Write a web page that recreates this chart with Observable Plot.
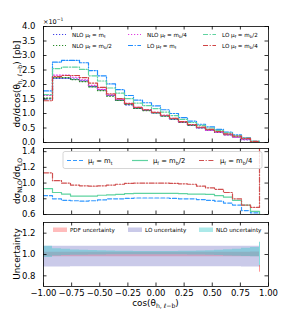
<!DOCTYPE html>
<html><head><meta charset="utf-8">
<script src="https://cdn.jsdelivr.net/npm/d3@7"></script>
<script src="https://cdn.jsdelivr.net/npm/@observablehq/plot@0.6"></script>
<style>
body{margin:0;background:#fff;}
#wrap{position:relative;width:282px;height:329px;font-family:"DejaVu Sans",sans-serif;overflow:hidden;}
#wrap svg{position:absolute;left:0;}
</style></head><body><div id="wrap"></div>
<script>
// ---------- data ----------
const binEdges = [-1.00,-0.92,-0.84,-0.76,-0.68,-0.60,-0.52,-0.44,-0.36,-0.28,-0.20,-0.12,-0.04,0.04,0.12,0.20,0.28,0.36,0.44,0.52,0.60,0.68,0.76,0.84,0.92];
const xTicks = [-1, -0.75, -0.5, -0.25, 0, 0.25, 0.5, 0.75, 1];
const topYTicks = [0, 0.5, 1.0, 1.5, 2.0, 2.5, 3.0, 3.5, 4.0];
const midYTicks = [0.6, 0.8, 1.0, 1.2, 1.4];
const botYTicks = [0.8, 1.0, 1.2];

// differential cross section (x10^-1 pb)
const nloMt  = [1.50,2.21,2.21,2.19,2.13,1.93,1.82,1.62,1.46,1.30,1.18,1.11,1.02,0.92,0.80,0.69,0.59,0.50,0.42,0.35,0.27,0.19,0.10,0.025];
const nloMb2 = [1.53,2.24,2.24,2.17,2.10,1.92,1.79,1.60,1.45,1.31,1.18,1.10,1.02,0.91,0.81,0.69,0.59,0.51,0.43,0.35,0.27,0.19,0.11,0.026];
const nloMb4 = [1.62,2.32,2.32,2.25,2.16,1.97,1.83,1.64,1.49,1.34,1.21,1.13,1.04,0.94,0.83,0.71,0.61,0.51,0.42,0.35,0.26,0.18,0.10,0.028];
const loMt   = [1.78,2.77,2.83,2.83,2.75,2.48,2.30,2.02,1.82,1.62,1.46,1.37,1.26,1.13,1.00,0.86,0.74,0.63,0.54,0.45,0.36,0.26,0.16,0.04];
const loMb2  = [1.65,2.55,2.60,2.60,2.52,2.30,2.12,1.88,1.70,1.51,1.36,1.27,1.17,1.05,0.93,0.80,0.69,0.59,0.50,0.42,0.33,0.24,0.15,0.04];
const loMb4  = [1.44,2.27,2.31,2.31,2.24,2.05,1.90,1.68,1.51,1.35,1.21,1.13,1.04,0.94,0.83,0.72,0.62,0.53,0.45,0.38,0.30,0.22,0.14,0.04];

// NLO / LO ratios
const ratioMt  = [0.84,0.80,0.78,0.775,0.77,0.775,0.785,0.80,0.80,0.805,0.81,0.81,0.81,0.81,0.805,0.80,0.80,0.79,0.78,0.77,0.745,0.72,0.65,0.62];
const ratioMb2 = [0.93,0.88,0.86,0.835,0.835,0.835,0.845,0.85,0.855,0.865,0.87,0.87,0.87,0.87,0.87,0.865,0.86,0.86,0.855,0.84,0.82,0.78,0.72,0.64];
const ratioMb4 = [1.13,1.03,1.00,0.975,0.965,0.96,0.965,0.975,0.985,0.995,1.00,1.00,1.00,1.00,0.995,0.99,0.985,0.96,0.94,0.92,0.88,0.80,0.72,0.69];
const ratioTail = [0.62, 0.0, 2.0]; // value after last bin edge (mt, mb/2, mb/4)

// uncertainty bands
const pdfLo = [0.979,0.979,0.979,0.979,0.980,0.980,0.980,0.980,0.980,0.980,0.980,0.980,0.980,0.980,0.980,0.980,0.980,0.980,0.980,0.980,0.979,0.979,0.979,0.978];
const pdfHi = [1.022,1.022,1.022,1.022,1.021,1.021,1.021,1.021,1.021,1.021,1.021,1.021,1.021,1.021,1.021,1.021,1.021,1.021,1.021,1.022,1.022,1.022,1.022,1.023];
const loLo  = [0.882,0.883,0.883,0.884,0.884,0.884,0.884,0.884,0.884,0.884,0.884,0.884,0.884,0.884,0.884,0.884,0.884,0.884,0.884,0.884,0.884,0.884,0.883,0.883];
const loHi  = [1.078,1.078,1.078,1.078,1.078,1.078,1.078,1.078,1.078,1.078,1.078,1.078,1.078,1.078,1.078,1.078,1.078,1.078,1.078,1.078,1.078,1.078,1.078,1.078];
const nloLo = [0.972,0.985,0.990,0.992,0.993,0.995,0.996,0.997,0.997,0.997,0.997,0.997,0.997,0.997,0.997,0.997,0.996,0.995,0.993,0.990,0.987,0.984,0.982,0.980];
const nloHi = [1.078,1.055,1.050,1.042,1.040,1.038,1.036,1.032,1.030,1.030,1.028,1.028,1.028,1.028,1.028,1.030,1.030,1.032,1.036,1.040,1.045,1.050,1.058,1.065];
const nloSpike = [0.88, 1.115];
const pdfSpike = [0.834, 0.897];

const topLegend = ["NLO mt", "NLO mb/2", "NLO mb/4", "LO mt", "LO mb/2", "LO mb/4"];
const midLegend = ["mt", "mb/2", "mb/4"];
const botLegend = ["PDF uncertainty", "LO uncertainty", "NLO uncertainty"];

// ---------- styles ----------
const FONT = "DejaVu Sans";
const W = 282, H = 329, ML = 43, MR = 14, FW = W - ML - MR, TL = 3.5;
const C = {
  nloMt: "#4040e8", nloMb2: "#2a8a2a", nloMb4: "#e040e0",
  loMt: "#1e8cff", loMb2: "#5fd3a0", loMb4: "#d04444",
  rMt: "#3399ff", rMb2: "#5fd3a0", rMb4: "#d05050",
  pdf: "#ff6a6a", lo: "#7a7ac8", nlo: "#30c8c8"
};
const DOT = "1.2,1.8", DASHDOT = "5,1.6,1.2,1.6", DASH = "4,2";

function steps(vals, tail) {
  const pts = vals.map((v, i) => ({x: binEdges[i], y: v}));
  pts.push({x: binEdges[vals.length], y: tail === undefined ? vals[vals.length - 1] : tail});
  return pts;
}
function bands(lo, hi) {
  const pts = lo.map((v, i) => ({x: binEdges[i], y1: v, y2: hi[i]}));
  pts.push({x: binEdges[lo.length], y1: lo[lo.length - 1], y2: hi[hi.length - 1]});
  return pts;
}
function frameTicks(yt, fh) {
  const o = {stroke: "#000", strokeWidth: 0.8};
  return [
    Plot.tickX(xTicks, {x: d => d, insetTop: fh - TL, ...o}),
    Plot.tickX(xTicks, {x: d => d, insetBottom: fh - TL, ...o}),
    Plot.tickY(yt, {y: d => d, insetRight: FW - TL, ...o}),
    Plot.tickY(yt, {y: d => d, insetLeft: FW - TL, ...o})
  ];
}
const style = {fontFamily: FONT, fontSize: "8.5px", color: "#000", background: "transparent", overflow: "visible"};
function stepLine(vals, stroke, dash, tail, w = 1.2) {
  return Plot.line(steps(vals, tail), {x: "x", y: "y", curve: "step-after", stroke, strokeWidth: w, strokeDasharray: dash, clip: true});
}

const wrap = document.getElementById("wrap");

// ---------- top panel ----------
const p1 = Plot.plot({
  width: W, height: 145, marginTop: 26, marginBottom: 3, marginLeft: ML, marginRight: MR,
  x: {domain: [-1, 1], axis: null}, y: {domain: [0, 4]}, style,
  marks: [
    stepLine(nloMt, C.nloMt, DOT),
    stepLine(nloMb2, C.nloMb2, DOT),
    stepLine(nloMb4, C.nloMb4, DOT),
    stepLine(loMt, C.loMt, DASHDOT),
    stepLine(loMb2, C.loMb2, DASHDOT),
    stepLine(loMb4, C.loMb4, DASHDOT),
    ...frameTicks(topYTicks, 116),
    Plot.axisY(topYTicks, {tickSize: 0, tickPadding: 8, tickFormat: d3.format(".1f"), fontSize: 8.5, label: null}),
    Plot.frame({stroke: "#000", strokeWidth: 0.8})
  ]
});
p1.style.top = "0px";
wrap.append(p1);

// ---------- middle panel ----------
const p2 = Plot.plot({
  width: W, height: 75, marginTop: 6, marginBottom: 3, marginLeft: ML, marginRight: MR,
  x: {domain: [-1, 1], axis: null}, y: {domain: [0.6, 1.44]}, style,
  marks: [
    stepLine(ratioMt, C.rMt, DASH, ratioTail[0]),
    stepLine(ratioMb2, C.rMb2, null, ratioTail[1]),
    stepLine(ratioMb4, C.rMb4, DASHDOT, ratioTail[2]),
    ...frameTicks(midYTicks, 66),
    Plot.axisY(midYTicks, {tickSize: 0, tickPadding: 8, tickFormat: d3.format(".1f"), fontSize: 8.5, label: null}),
    Plot.frame({stroke: "#000", strokeWidth: 0.8})
  ]
});
p2.style.top = "142px";
wrap.append(p2);

// ---------- bottom panel ----------
const p3 = Plot.plot({
  width: W, height: 115, marginTop: 8, marginBottom: 43, marginLeft: ML, marginRight: MR,
  x: {domain: [-1, 1]}, y: {domain: [0.7, 1.3]}, style,
  marks: [
    Plot.areaY(bands(pdfLo, pdfHi), {x: "x", y1: "y1", y2: "y2", curve: "step-after", fill: C.pdf, fillOpacity: 0.45}),
    Plot.areaY(bands(loLo, loHi), {x: "x", y1: "y1", y2: "y2", curve: "step-after", fill: C.lo, fillOpacity: 0.4}),
    Plot.areaY(bands(nloLo, nloHi), {x: "x", y1: "y1", y2: "y2", curve: "step-after", fill: C.nlo, fillOpacity: 0.4}),
    Plot.ruleX([binEdges[24]], {x: d => d, y1: nloSpike[0], y2: nloSpike[1], stroke: C.nlo, strokeOpacity: 0.6, strokeWidth: 1}),
    Plot.ruleX([binEdges[24]], {x: d => d, y1: pdfSpike[0], y2: pdfSpike[1], stroke: C.pdf, strokeOpacity: 0.7, strokeWidth: 1}),
    ...frameTicks(botYTicks, 64),
    Plot.axisY(botYTicks, {tickSize: 0, tickPadding: 8, tickFormat: d3.format(".1f"), fontSize: 8.5, label: null}),
    Plot.axisX(xTicks, {tickSize: 0, tickPadding: 3, tickFormat: d3.format(".2f"), fontSize: 8.5, label: null}),
    Plot.frame({stroke: "#000", strokeWidth: 0.8})
  ]
});
p3.style.top = "214px";
wrap.append(p3);

// ---------- overlay text & legends ----------
const ov = d3.create("svg").attr("width", W).attr("height", H)
  .style("top", "0px").attr("font-family", FONT);
function rich(x, y, parts, size, anchor = "start", rotate = false) {
  const t = ov.append("text").attr("x", x).attr("y", y).attr("font-size", size)
    .attr("text-anchor", anchor).attr("fill", "#000");
  if (rotate) t.attr("transform", `rotate(-90 ${x} ${y})`);
  let shifted = 0;
  for (const [s, mode] of parts) {
    const ts = t.append("tspan").text(s);
    const want = mode === "sub" ? size * 0.28 : mode === "sup" ? -size * 0.4 : 0;
    if (want !== shifted) ts.attr("dy", want - shifted);
    if (mode) ts.attr("font-size", size * 0.7);
    shifted = want;
  }
  return t;
}
function labelParts(key) {
  const [kind, scale] = key.split(" ");
  const pre = kind ? [[kind + " μ", null], ["f", "sub"]] : [["μ", null], ["f", "sub"]];
  const m = scale === "mt" ? [[" = m", null], ["t", "sub"]] : scale === "mb/2" ? [[" = m", null], ["b", "sub"], ["/2", null]] : [[" = m", null], ["b", "sub"], ["/4", null]];
  return pre.concat(m);
}

// axis labels
rich(20, 84, [["dσ/dcos(θ", null], ["h, ℓ−b", "sub"], [") [pb]", null]], 8.8, "middle", true);
rich(20, 181, [["dσ", null], ["NLO", "sub"], ["/dσ", null], ["LO", "sub"]], 8.8, "middle", true);
rich(20, 254, [["Uncertainty", null]], 8.8, "middle", true);
rich(155.5, 306, [["cos(θ", null], ["h, ℓ−b", "sub"], [")", null]], 8.8, "middle");
rich(43, 23.5, [["×10", null], ["−1", "sup"]], 6.5);

// top legend (column-major, 3 columns)
const tCols = [53, 128, 203], tRows = [34.5, 45.5];
const tStyles = [[C.nloMt, DOT], [C.nloMb2, DOT], [C.nloMb4, DOT], [C.loMt, DASHDOT], [C.loMb2, DASHDOT], [C.loMb4, DASHDOT]];
topLegend.forEach((name, i) => {
  const col = Math.floor(i / 2), row = i % 2;
  const x = tCols[col], y = tRows[row];
  ov.append("line").attr("x1", x).attr("x2", x + 13).attr("y1", y).attr("y2", y)
    .attr("stroke", tStyles[i][0]).attr("stroke-width", 1.2).attr("stroke-dasharray", tStyles[i][1]);
  rich(x + 19, y + 2, labelParts(name), 5.6);
});

// middle legend
ov.append("rect").attr("x", 63).attr("y", 151.5).attr("width", 199).attr("height", 17).attr("rx", 2)
  .attr("fill", "#fff").attr("fill-opacity", 0.8).attr("stroke", "#ccc").attr("stroke-width", 0.8);
const mItems = [[67, C.rMt, DASH], [132, C.rMb2, null], [199, C.rMb4, DASHDOT]];
midLegend.forEach((name, i) => {
  const [x, col, dash] = mItems[i];
  const y = 160.5;
  ov.append("line").attr("x1", x).attr("x2", x + 16).attr("y1", y).attr("y2", y)
    .attr("stroke", col).attr("stroke-width", 1.2).attr("stroke-dasharray", dash);
  rich(x + 21, y + 2.3, labelParts(" " + name).slice(0), 6.8);
});

// bottom legend
const bItems = [[53, C.pdf, 0.45], [128, C.lo, 0.4], [199, C.nlo, 0.4]];
botLegend.forEach((name, i) => {
  const [x, col, op] = bItems[i];
  ov.append("rect").attr("x", x).attr("y", 227.5).attr("width", 14).attr("height", 4.5)
    .attr("fill", col).attr("fill-opacity", op);
  rich(x + 17, 231.8, [[name, null]], 5.6);
});

wrap.append(ov.node());
</script></body></html>
